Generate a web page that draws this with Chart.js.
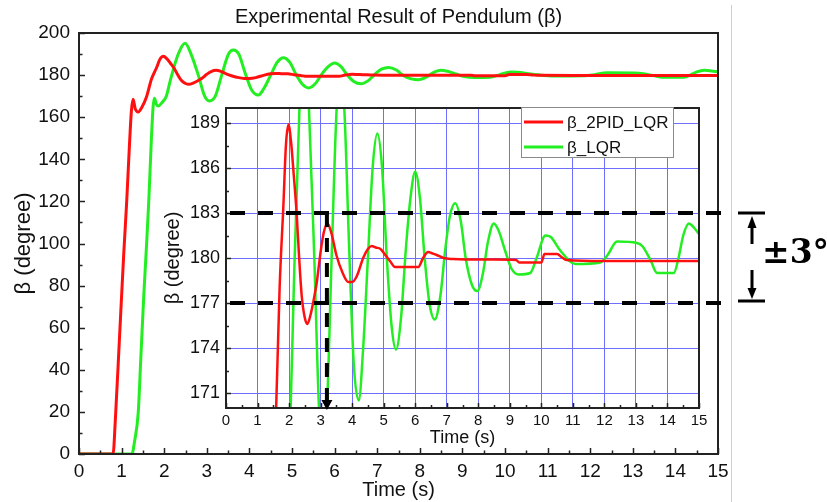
<!DOCTYPE html>
<html><head><meta charset="utf-8">
<script src="https://cdn.jsdelivr.net/npm/chart.js@4"></script>
<style>
html,body{margin:0;padding:0;background:#fff;}
#wrap{position:relative;width:827px;height:502px;overflow:hidden;}
#wrap canvas{position:absolute;left:0;top:0;}
</style></head><body>
<div id="wrap"><canvas id="main" width="827" height="502"></canvas><canvas id="inset" width="827" height="502"></canvas></div>
<script>
// ---------------- data ----------------
const chartTitle = 'Experimental Result of Pendulum (β)';
const seriesNames = ['β_2PID_LQR', 'β_LQR'];
const xTitle = 'Time (s)';
const yTitle = 'β (degree)';

const time2PID = [0,0.80,0.85,0.95,1.05,1.12,1.18,1.23,1.27,1.32,1.39,1.47,1.59,1.70,1.82,1.90,1.98,2.06,2.15,2.24,2.32,2.40,2.50,2.58,2.68,2.78,2.88,3.00,3.10,3.22,3.35,3.50,3.70,3.88,4.00,4.15,4.35,4.50,4.62,4.75,4.90,5.05,5.20,5.36,5.70,6.10,6.25,6.41,6.55,6.68,6.90,7.20,7.60,8.50,9.20,9.30,10.00,10.10,10.50,10.65,10.80,12.00,15.00];
const beta2PID = [0,0,15,55,95,120,145,163,168.5,164,162.5,164.5,170,178,183.5,187.5,188.9,187.8,185.5,183,180,177.5,176,175.6,176.2,177.2,178.4,180.4,181.7,182.3,181.6,180.2,179,178.4,178.4,178.8,180,180.6,180.8,180.7,180.6,180.2,179.8,179.4,179.4,179.4,180,180.4,180.3,180.2,180,179.93,179.9,179.9,179.87,179.7,179.7,180.27,180.27,180.05,179.87,179.8,179.8];

const timeLQR = [0,1.24,1.31,1.39,1.45,1.52,1.59,1.64,1.70,1.74,1.77,1.82,1.86,1.95,2.05,2.15,2.33,2.49,2.63,2.80,2.95,3.06,3.20,3.35,3.51,3.62,3.75,3.90,4.05,4.21,4.35,4.50,4.65,4.80,4.95,5.10,5.25,5.39,5.55,5.70,5.85,6.00,6.15,6.30,6.45,6.62,6.80,6.95,7.10,7.27,7.45,7.60,7.80,7.97,8.15,8.30,8.49,8.65,8.85,9.05,9.28,9.65,9.85,10.13,10.30,10.60,11.08,11.87,12.10,12.40,13.03,13.20,13.46,13.67,14.20,14.35,14.50,14.68,14.85,15.00];
const betaLQR = [0,0,6.7,19.5,45,75,101,121,150,165,169,166,165.3,167,170,178,190,195.1,190,180,170,167.7,170,180,190,191.9,190,181,173,170.5,174,180,186,188.3,186,180,175.5,173.9,176,180.5,184,185.75,184,180,177,175.9,177.5,180.5,182.8,183.65,182.4,180,178.2,177.8,179,181,182.3,181.8,180.5,179.3,178.9,179.0,180,181.5,181.4,180.5,179.6,179.7,180.2,181.1,181.0,180.8,179.87,179.0,179.0,180,181.5,182.3,182,181.6];

const mainXTicks = [0,1,2,3,4,5,6,7,8,9,10,11,12,13,14,15];
const mainYTicks = [0,20,40,60,80,100,120,140,160,180,200];
const insetXTicks = [0,1,2,3,4,5,6,7,8,9,10,11,12,13,14,15];
const insetYTicks = [171,174,177,180,183,186,189];
const bandValues = [177, 183];   // ±3° band
const bandLabel = '±3°';
const markTime = 3.2;            // settling marker (s)

// ---------------- helpers ----------------
const FONT = '"Liberation Sans", Arial, sans-serif';
const RED = '#ff1010';
const GREEN = '#22ee22';
const GRIDBLUE = '#6e6eff';
function pts(t, v) { return t.map((x, i) => ({ x: x, y: v[i] })); }
function fixTicks(list) { return s => { s.ticks = list.map(v => ({ value: v })); }; }

const frameTicks = {
  id: 'frameTicks',
  afterDatasetsDraw(chart, args, o) {
    const { ctx, chartArea: a } = chart;
    const xs = chart.scales.x, ys = chart.scales.y;
    ctx.save();
    ctx.strokeStyle = o.color; ctx.lineWidth = o.tickWidth;
    ctx.beginPath();
    const isMajor = (s, v) => s.ticks.some(t => Math.abs(t.value - v) < 1e-6);
    const x0 = xs.ticks[0].value;
    const xv = [];
    for (let v = x0; v >= xs.min - 1e-9; v -= o.xMinor) xv.push(v);
    for (let v = x0 + o.xMinor; v <= xs.max + 1e-9; v += o.xMinor) xv.push(v);
    xv.forEach(v => {
      const px = Math.round(xs.getPixelForValue(v)) + 0.5;
      const len = isMajor(xs, v) ? o.major : o.minor;
      ctx.moveTo(px, a.bottom); ctx.lineTo(px, a.bottom - len);
    });
    const y0 = ys.ticks[0].value;
    const yv = [];
    for (let v = y0; v >= ys.min - 1e-9; v -= o.yMinor) yv.push(v);
    for (let v = y0 + o.yMinor; v <= ys.max + 1e-9; v += o.yMinor) yv.push(v);
    yv.forEach(v => {
      const py = Math.round(ys.getPixelForValue(v)) + 0.5;
      const len = isMajor(ys, v) ? o.major : o.minor;
      ctx.moveTo(a.left, py); ctx.lineTo(a.left + len, py);
    });
    ctx.stroke();
    ctx.lineWidth = o.width;
    ctx.strokeRect(a.left, a.top, a.right - a.left, a.bottom - a.top);
    ctx.restore();
  }
};

const overlay = {
  id: 'overlay',
  afterDraw(chart) {
    const { ctx, chartArea: a } = chart;
    const xs = chart.scales.x, ys = chart.scales.y;
    ctx.save();
    // legend
    const lx = a.right - 178, ly = a.top - 1, lw = 152, lh = 50;
    ctx.fillStyle = '#fff'; ctx.fillRect(lx, ly, lw, lh);
    ctx.strokeStyle = '#8a8a8a'; ctx.lineWidth = 1;
    ctx.strokeRect(lx + 0.5, ly + 0.5, lw, lh);
    ctx.font = '17px ' + FONT; ctx.textBaseline = 'middle'; ctx.textAlign = 'left';
    chart.data.datasets.forEach((ds, i) => {
      const yy = ly + 15 + i * 25;
      ctx.strokeStyle = ds.borderColor; ctx.lineWidth = 3;
      ctx.beginPath(); ctx.moveTo(lx + 3, yy); ctx.lineTo(lx + 42, yy); ctx.stroke();
      ctx.fillStyle = '#111'; ctx.fillText(ds.label, lx + 46, yy + 1);
    });
    // ±3° band dashed lines
    ctx.strokeStyle = '#000'; ctx.lineWidth = 4; ctx.setLineDash([15, 13]);
    bandValues.forEach(v => {
      const py = ys.getPixelForValue(v);
      ctx.beginPath(); ctx.moveTo(a.left + 4, py); ctx.lineTo(a.right + 23, py); ctx.stroke();
    });
    // vertical settling marker
    const mx = xs.getPixelForValue(markTime);
    const topY = ys.getPixelForValue(bandValues[1]);
    ctx.setLineDash([14, 11]);
    ctx.beginPath(); ctx.moveTo(mx, topY); ctx.lineTo(mx, a.bottom - 8); ctx.stroke();
    ctx.setLineDash([]);
    ctx.fillStyle = '#000';
    ctx.beginPath(); ctx.moveTo(mx - 5.5, a.bottom - 8); ctx.lineTo(mx + 5.5, a.bottom - 8); ctx.lineTo(mx, a.bottom + 2); ctx.closePath(); ctx.fill();
    // annotation
    const ax = a.right + 53;
    const yHi = ys.getPixelForValue(bandValues[1]);
    const yLo = ys.getPixelForValue(bandValues[0]);
    ctx.lineWidth = 3;
    ctx.beginPath();
    ctx.moveTo(ax - 14, yHi); ctx.lineTo(ax + 13, yHi);
    ctx.moveTo(ax, yHi + 13); ctx.lineTo(ax, yHi + 31);
    ctx.moveTo(ax, yLo - 33); ctx.lineTo(ax, yLo - 13);
    ctx.moveTo(ax - 14, yLo - 2); ctx.lineTo(ax + 13, yLo - 2);
    ctx.stroke();
    ctx.beginPath(); ctx.moveTo(ax - 4.5, yHi + 15); ctx.lineTo(ax + 4.5, yHi + 15); ctx.lineTo(ax, yHi + 3); ctx.closePath(); ctx.fill();
    ctx.beginPath(); ctx.moveTo(ax - 4.5, yLo - 15); ctx.lineTo(ax + 4.5, yLo - 15); ctx.lineTo(ax, yLo - 4); ctx.closePath(); ctx.fill();
    ctx.font = 'bold 33px "DejaVu Serif", "Liberation Serif", serif';
    ctx.textBaseline = 'alphabetic'; ctx.textAlign = 'left';
    ctx.fillText(bandLabel, ax + 10, (yHi + yLo) / 2 + 5);
    // image border line
    ctx.strokeStyle = '#cfcfcf'; ctx.lineWidth = 1;
    ctx.beginPath(); ctx.moveTo(731.5, 5); ctx.lineTo(731.5, 502); ctx.stroke();
    ctx.restore();
  }
};

// ---------------- main chart ----------------
new Chart(document.getElementById('main'), {
  type: 'line',
  data: {
    datasets: [
      { label: seriesNames[0], data: pts(time2PID, beta2PID), borderColor: RED, borderWidth: 3, pointRadius: 0, cubicInterpolationMode: 'monotone' },
      { label: seriesNames[1], data: pts(timeLQR, betaLQR), borderColor: GREEN, borderWidth: 3, pointRadius: 0, cubicInterpolationMode: 'monotone' }
    ]
  },
  options: {
    responsive: false, animation: false, devicePixelRatio: 1,
    layout: { padding: { left: 4, right: 109, top: 0, bottom: 0 } },
    plugins: {
      legend: { display: false }, tooltip: { enabled: false },
      title: { display: true, text: chartTitle, fullSize: false, color: '#111', font: { family: FONT, size: 20, weight: 'normal' }, padding: { top: 5, bottom: 4 } },
      frameTicks: { color: '#222', width: 2, tickWidth: 1.5, major: 6, minor: 3.5, xMinor: 0.5, yMinor: 10 }
    },
    scales: {
      x: {
        type: 'linear', min: 0, max: 15,
        afterBuildTicks: fixTicks(mainXTicks), afterFit: s => { s.height = 48; },
        grid: { display: false, drawTicks: false }, border: { display: false },
        ticks: { color: '#111', font: { family: FONT, size: 19 }, padding: 6, maxRotation: 0, autoSkip: false },
        title: { display: true, text: xTitle, color: '#111', font: { family: FONT, size: 20 }, padding: { top: 0, bottom: 0 } }
      },
      y: {
        type: 'linear', min: 0, max: 200,
        afterBuildTicks: fixTicks(mainYTicks), afterFit: s => { s.width = 75; },
        grid: { display: false, drawTicks: false }, border: { display: false },
        ticks: { color: '#111', font: { family: FONT, size: 19 }, padding: 9, autoSkip: false },
        title: { display: true, text: yTitle, color: '#111', font: { family: FONT, size: 22 }, padding: { top: 7, bottom: 0 } }
      }
    }
  },
  plugins: [frameTicks]
});

// ---------------- inset chart ----------------
new Chart(document.getElementById('inset'), {
  type: 'line',
  data: {
    datasets: [
      { label: seriesNames[0], data: pts(time2PID, beta2PID), borderColor: RED, borderWidth: 2.5, pointRadius: 0, cubicInterpolationMode: 'monotone' },
      { label: seriesNames[1], data: pts(timeLQR, betaLQR), borderColor: GREEN, borderWidth: 2.5, pointRadius: 0, cubicInterpolationMode: 'monotone' }
    ]
  },
  options: {
    responsive: false, animation: false, devicePixelRatio: 1,
    layout: { padding: { left: 150, right: 128, top: 108, bottom: 52 } },
    plugins: {
      legend: { display: false }, tooltip: { enabled: false }, title: { display: false },
      frameTicks: { color: '#222', width: 2, tickWidth: 1.5, major: 5, minor: 3, xMinor: 0.5, yMinor: 1.5 }
    },
    scales: {
      x: {
        type: 'linear', min: 0, max: 15,
        afterBuildTicks: fixTicks(insetXTicks), afterFit: s => { s.height = 42; },
        grid: { color: GRIDBLUE, lineWidth: 1, drawTicks: false }, border: { display: false },
        ticks: { color: '#111', font: { family: FONT, size: 15 }, padding: 4, maxRotation: 0, autoSkip: false },
        title: { display: true, text: xTitle, color: '#111', font: { family: FONT, size: 18 }, padding: { top: 0, bottom: 1.2 } }
      },
      y: {
        type: 'linear', min: 170, max: 190,
        afterBuildTicks: fixTicks(insetYTicks), afterFit: s => { s.width = 76; },
        grid: { color: GRIDBLUE, lineWidth: 1, drawTicks: false }, border: { display: false },
        ticks: { color: '#111', font: { family: FONT, size: 18 }, padding: 6, autoSkip: false },
        title: { display: true, text: yTitle, color: '#111', font: { family: FONT, size: 20 }, padding: { top: 11, bottom: 0 } }
      }
    }
  },
  plugins: [frameTicks, overlay]
});
</script>
</body></html>
